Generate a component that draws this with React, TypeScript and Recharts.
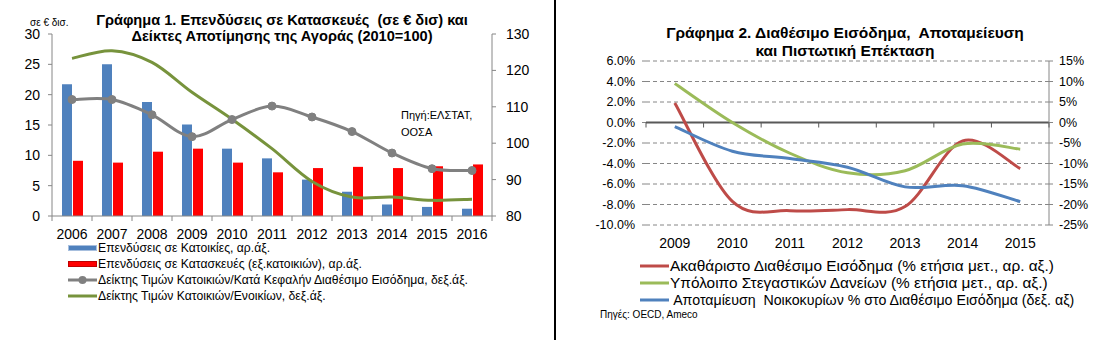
import { ComposedChart, Bar, Line, XAxis, YAxis, CartesianGrid, ReferenceLine } from 'recharts';

const FONT = '"Liberation Sans", Arial, Helvetica, sans-serif';
const AXIS = '#868686';

// Γράφημα 1
const years1 = ['2006', '2007', '2008', '2009', '2010', '2011', '2012', '2013', '2014', '2015', '2016'];
const housingInvest = [21.7, 25.0, 18.8, 15.1, 11.1, 9.5, 6.0, 4.0, 1.9, 1.5, 1.2];
const constructionInvest = [9.1, 8.8, 10.6, 11.1, 8.8, 7.2, 7.9, 8.1, 7.9, 8.2, 8.5];
const priceToIncome = [112.0, 112.0, 107.8, 101.8, 106.5, 110.2, 107.2, 103.2, 97.3, 93.0, 92.5];
const priceToRent = [123.3, 125.4, 122.2, 114.0, 106.6, 98.5, 89.5, 85.2, 85.2, 84.3, 84.6];
const leftTicks1 = [0, 5, 10, 15, 20, 25, 30];
const rightTicks1 = [80, 90, 100, 110, 120, 130];
const names1 = [
  'Επενδύσεις σε Κατοικίες, αρ.άξ.',
  'Επενδύσεις σε Κατασκευές (εξ.κατοικιών), αρ.άξ.',
  'Δείκτης Τιμών Κατοικιών/Κατά Κεφαλήν Διαθέσιμο Εισόδημα, δεξ.άξ.',
  'Δείκτης Τιμών Κατοικιών/Ενοικίων, δεξ.άξ.',
];

// Γράφημα 2
const years2 = ['2009', '2010', '2011', '2012', '2013', '2014', '2015'];
const grossIncome = [1.9, -7.7, -8.6, -8.5, -8.2, -1.8, -4.5];
const mortgageLoans = [3.8, 0.0, -3.0, -4.9, -4.7, -2.1, -2.6];
const savingsRate = [-1.0, -7.0, -8.8, -10.9, -15.7, -15.4, -19.3];
const leftTicks2 = [-10, -8, -6, -4, -2, 0, 2, 4, 6];
const rightTicks2 = [-25, -20, -15, -10, -5, 0, 5, 10, 15];
const names2 = [
  'Ακαθάριστο Διαθέσιμο Εισόδημα (% ετήσια μετ., αρ. αξ.)',
  'Υπόλοιπο Στεγαστικών Δανείων (% ετήσια μετ., αρ. αξ.)',
  ' Αποταμίευση  Νοικοκυρίων % στο Διαθέσιμο Εισόδημα (δεξ. αξ)',
];

const data1 = years1.map((year, i) => ({
  year,
  housing: housingInvest[i],
  construction: constructionInvest[i],
  income: priceToIncome[i],
  rent: priceToRent[i],
}));

const data2 = years2.map((year, i) => ({
  year,
  income: grossIncome[i],
  loans: mortgageLoans[i],
  savings: savingsRate[i],
}));

// Excel-style smoothed line (Catmull-Rom through the points)
function excelSmooth(context: any) {
  let pts: number[][] = [];
  return {
    areaStart() {},
    areaEnd() {},
    lineStart() {
      pts = [];
    },
    point(x: number, y: number) {
      pts.push([+x, +y]);
    },
    lineEnd() {
      const n = pts.length;
      if (!n) return;
      context.moveTo(pts[0][0], pts[0][1]);
      for (let i = 0; i < n - 1; i++) {
        const p0 = pts[Math.max(i - 1, 0)];
        const p1 = pts[i];
        const p2 = pts[i + 1];
        const p3 = pts[Math.min(i + 2, n - 1)];
        context.bezierCurveTo(
          p1[0] + (p2[0] - p0[0]) / 6,
          p1[1] + (p2[1] - p0[1]) / 6,
          p2[0] - (p3[0] - p1[0]) / 6,
          p2[1] - (p3[1] - p1[1]) / 6,
          p2[0],
          p2[1]
        );
      }
    },
  };
}

// chart 1 layout
const W1 = 555;
const H1 = 244;
const M1 = { top: 34, right: 13, left: 0, bottom: 0 };
const YW1L = 52;
const YW1R = 50;
const PLOT_W1 = W1 - M1.left - M1.right - YW1L - YW1R;
const GAP1 = 18;

// chart 2 layout
const W2 = 557;
const H2 = 255;
const M2 = { top: 61, right: 14, left: 0, bottom: 0 };
const YW2L = 90;
const YW2R = 50;
const XH2 = 30;
const PLOT_W2 = W2 - M2.left - M2.right - YW2L - YW2R;
const PLOT_H2 = H2 - M2.top - M2.bottom - XH2;
const GAP2 = 18;

function YearTick1(props: any) {
  const { x, y, payload } = props;
  const band = PLOT_W1 / years1.length;
  const axisY = y - GAP1;
  const last = payload.value === years1[years1.length - 1];
  return (
    <g>
      <line x1={x - band / 2} x2={x - band / 2} y1={axisY} y2={axisY + 5} stroke={AXIS} />
      {last && <line x1={x + band / 2} x2={x + band / 2} y1={axisY} y2={axisY + 5} stroke={AXIS} />}
      <text x={x} y={y} textAnchor="middle" dominantBaseline="central" fontSize={14} fill="#000" fontFamily={FONT}>
        {payload.value}
      </text>
    </g>
  );
}

function YearTick2(props: any) {
  const { x, y, payload } = props;
  const band = PLOT_W2 / years2.length;
  const lo = leftTicks2[0];
  const hi = leftTicks2[leftTicks2.length - 1];
  const zeroY = M2.top + (PLOT_H2 * hi) / (hi - lo);
  const last = payload.value === years2[years2.length - 1];
  return (
    <g>
      <line x1={x - band / 2} x2={x - band / 2} y1={zeroY} y2={zeroY + 5} stroke="#595959" />
      {last && <line x1={x + band / 2} x2={x + band / 2} y1={zeroY} y2={zeroY + 5} stroke="#595959" />}
      <text x={x} y={y} textAnchor="middle" dominantBaseline="central" fontSize={14} fill="#000" fontFamily={FONT}>
        {payload.value}
      </text>
    </g>
  );
}

function Swatch({ kind, color }: { kind: string; color: string }) {
  return (
    <svg width={30} height={10} style={{ flex: 'none' }}>
      {kind === 'bar' && <rect x={0.5} y={2.5} width={28} height={5} fill={color} stroke={color === '#FF0000' ? '#C00000' : '#A7BFDE'} />}
      {kind !== 'bar' && <line x1={0} x2={29} y1={5} y2={5} stroke={color} strokeWidth={3} />}
      {kind === 'dot' && <circle cx={14.5} cy={5} r={4} fill={color} />}
    </svg>
  );
}

const kinds1 = ['bar', 'bar', 'dot', 'line'];
const colors1 = ['#4F81BD', '#FF0000', '#808080', '#77933C'];
const colors2 = ['#BE4B48', '#9BBB59', '#4F81BD'];
const sizes2 = [15.4, 15.4, 14.2];

function Chart1() {
  return (
    <div style={{ position: 'absolute', left: 0, top: 0, width: W1, height: 340 }}>
      <div style={{ position: 'absolute', left: 82, top: 12, width: 400, textAlign: 'center', fontWeight: 'bold', fontSize: 14.6, lineHeight: '16px', whiteSpace: 'pre' }}>
        <div>{'Γράφημα 1. Επενδύσεις σε Κατασκευές  (σε € δισ) και'}</div>
        <div>{'Δείκτες Αποτίμησης της Αγοράς (2010=100)'}</div>
      </div>
      <div style={{ position: 'absolute', left: 30, top: 17, fontSize: 10 }}>σε € δισ.</div>
      <ComposedChart width={W1} height={H1} data={data1} margin={M1} barSize={10} barGap={1}>
        <XAxis dataKey="year" interval={0} tickSize={0} tickLine={false} tickMargin={GAP1} height={H1 - M1.top - 182} stroke={AXIS} tick={<YearTick1 />} />
        <YAxis yAxisId="left" width={YW1L} domain={[0, 30]} ticks={leftTicks1} interval={0} stroke={AXIS} tickSize={4} tickMargin={8} tick={{ fill: '#000', fontSize: 14, fontFamily: FONT }} />
        <YAxis yAxisId="right" orientation="right" width={YW1R} domain={[80, 130]} ticks={rightTicks1} interval={0} stroke={AXIS} tickSize={4} tickMargin={10} tick={{ fill: '#000', fontSize: 14, fontFamily: FONT, textAnchor: 'start' }} />
        <Bar yAxisId="left" dataKey="housing" fill={colors1[0]} isAnimationActive={false} />
        <Bar yAxisId="left" dataKey="construction" fill={colors1[1]} isAnimationActive={false} />
        <Line yAxisId="right" dataKey="income" type={excelSmooth as any} stroke={colors1[2]} strokeWidth={3} dot={{ r: 4, fill: colors1[2], stroke: colors1[2], strokeWidth: 1 }} isAnimationActive={false} />
        <Line yAxisId="right" dataKey="rent" type={excelSmooth as any} stroke={colors1[3]} strokeWidth={3} dot={false} isAnimationActive={false} />
      </ComposedChart>
      <div style={{ position: 'absolute', left: 401, top: 107, fontSize: 11, lineHeight: '17px' }}>
        <div>Πηγή:ΕΛΣΤΑΤ,</div>
        <div>ΟΟΣΑ</div>
      </div>
      <div style={{ position: 'absolute', left: 68, top: 240, fontSize: 12.2 }}>
        {names1.map((name, i) => (
          <div key={name} style={{ display: 'flex', alignItems: 'center', height: 16, whiteSpace: 'pre' }}>
            <Swatch kind={kinds1[i]} color={colors1[i]} />
            <span>{name}</span>
          </div>
        ))}
      </div>
    </div>
  );
}

function Chart2() {
  return (
    <div style={{ position: 'absolute', left: 556, top: 0, width: W2, height: 340 }}>
      <div style={{ position: 'absolute', left: 89, top: 24, width: 400, textAlign: 'center', fontWeight: 'bold', fontSize: 15.5, lineHeight: '18px', whiteSpace: 'pre' }}>
        <div>{'Γράφημα 2. Διαθέσιμο Εισόδημα,  Αποταμείευση'}</div>
        <div>{'και Πιστωτική Επέκταση'}</div>
      </div>
      <ComposedChart width={W2} height={H2} data={data2} margin={M2}>
        <CartesianGrid yAxisId="left" vertical={false} stroke={AXIS} strokeDasharray="4 3" />
        <XAxis dataKey="year" scale="band" interval={0} axisLine={false} tickSize={0} tickLine={false} tickMargin={GAP2} height={XH2} tick={<YearTick2 />} />
        <YAxis yAxisId="left" width={YW2L} domain={[-10, 6]} ticks={leftTicks2} interval={0} axisLine={false} stroke={AXIS} tickSize={4} tickMargin={7} tickFormatter={(v: number) => v.toFixed(1) + '%'} tick={{ fill: '#000', fontSize: 12.5, fontFamily: FONT }} />
        <YAxis yAxisId="right" orientation="right" width={YW2R} domain={[-25, 15]} ticks={rightTicks2} interval={0} stroke={AXIS} tickSize={4} tickMargin={6} tickFormatter={(v: number) => v + '%'} tick={{ fill: '#000', fontSize: 12.5, fontFamily: FONT }} />
        <ReferenceLine yAxisId="left" y={0} stroke="#595959" strokeWidth={2} />
        <Line yAxisId="left" dataKey="income" type={excelSmooth as any} stroke={colors2[0]} strokeWidth={3} dot={false} isAnimationActive={false} />
        <Line yAxisId="left" dataKey="loans" type={excelSmooth as any} stroke={colors2[1]} strokeWidth={3} dot={false} isAnimationActive={false} />
        <Line yAxisId="right" dataKey="savings" type={excelSmooth as any} stroke={colors2[2]} strokeWidth={3} dot={false} isAnimationActive={false} />
      </ComposedChart>
      <div style={{ position: 'absolute', left: 84, top: 257 }}>
        {names2.map((name, i) => (
          <div key={name} style={{ display: 'flex', alignItems: 'center', height: 17, whiteSpace: 'pre', fontSize: sizes2[i] }}>
            <Swatch kind="line" color={colors2[i]} />
            <span>{name}</span>
          </div>
        ))}
      </div>
      <div style={{ position: 'absolute', left: 44, top: 309, fontSize: 10 }}>Πηγές: OECD, Ameco</div>
    </div>
  );
}

export default function App() {
  return (
    <div style={{ position: 'absolute', left: 0, top: 0, width: 1113, height: 340, background: '#fff', fontFamily: FONT, color: '#000', overflow: 'hidden' }}>
      <Chart1 />
      <div style={{ position: 'absolute', left: 554, top: 0, width: 2, height: 340, background: '#000' }} />
      <Chart2 />
    </div>
  );
}
